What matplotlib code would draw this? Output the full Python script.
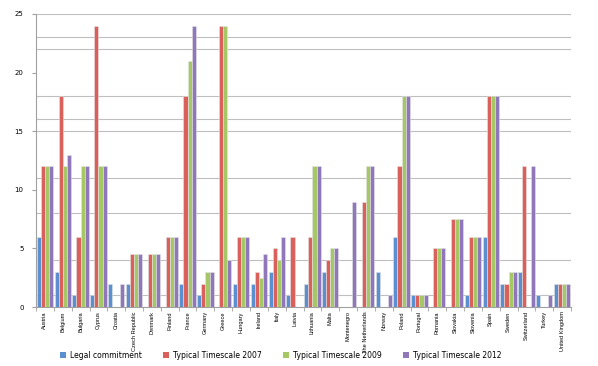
import numpy as np
import matplotlib
matplotlib.use("Agg")
import matplotlib.pyplot as plt
from matplotlib.patches import Patch
from matplotlib import font_manager

nan = np.nan
countries = ["Austria", "Belgium", "Bulgaria", "Cyprus", "Croatia", "Czech Republic",
             "Denmark", "Finland", "France", "Germany", "Greece", "Hungary", "Ireland",
             "Italy", "Latvia", "Lithuania", "Malta", "Montenegro", "The Netherlands",
             "Norway", "Poland", "Portugal", "Romania", "Slovakia", "Slovenia", "Spain",
             "Sweden", "Switzerland", "Turkey", "United Kingdom"]
legal = [6, 3, 1, 1, 2, 2, nan, nan, 2, 1, nan, 2, 2, 3, 1, 2, 3, nan, nan, 3,
         6, 1, nan, nan, 1, 6, 2, 3, 1, 2]
t2007 = [12, 18, 6, 24, nan, 4.5, 4.5, 6, 18, 2, 24, 6, 3, 5, 6, 6, 4, nan, 9, nan,
         12, 1, 5, 7.5, 6, 18, 2, 12, nan, 2]
t2009 = [12, 12, 12, 12, nan, 4.5, 4.5, 6, 21, 3, 24, 6, 2.5, 4, nan, 12, 5, nan, 12, nan,
         18, 1, 5, 7.5, 6, 18, 3, nan, nan, 2]
t2012 = [12, 13, 12, 12, 2, 4.5, 4.5, 6, 24, 3, 4, 6, 4.5, 6, nan, 12, 5, 9, 12, 1,
         18, 1, 5, 7.5, 6, 18, 3, 12, 1, 2]
series_names = ["Legal commitment", "Typical Timescale 2007",
                "Typical Timescale 2009", "Typical Timescale 2012"]
colors = ["#5B8FD0", "#D9605B", "#A6C766", "#8F77B9"]
y_ticks = [0, 5, 10, 15, 20, 25]
grid_values = [1, 4, 8, 11, 15, 16, 18, 22, 23, 25]

names = {f.name for f in font_manager.fontManager.ttflist}
if "Liberation Sans Narrow" in names:
    xfam, xsize = "Liberation Sans Narrow", 4.8
else:
    xfam, xsize = "Liberation Sans", 4.1

fig = plt.figure(figsize=(5.98, 3.66), dpi=100)
ax = fig.add_axes([36 / 598, 59 / 366, 535 / 598, 293 / 366])

x = np.arange(len(countries))
w = 0.23
all_series = [legal, t2007, t2009, t2012]
for k, (vals, c) in enumerate(zip(all_series, colors)):
    ax.bar(x + (k - 1.5) * w, np.array(vals, dtype=float), width=w, color=c,
           edgecolor="#e4e4e4", linewidth=0.4, zorder=3)

for g in grid_values:
    ax.axhline(g, color="#bfbfbf", linewidth=0.8, zorder=1)

ax.set_xlim(-0.5, len(countries) - 0.5)
ax.set_ylim(0, 25)
ax.set_yticks(y_ticks)
ax.set_yticklabels([str(t) for t in y_ticks], fontsize=5)
ax.tick_params(axis="y", length=3, color="#a0a0a0", pad=6)

ax.set_xticks(x)
ax.set_xticklabels(countries, rotation=90, fontsize=xsize, family=xfam)
ax.tick_params(axis="x", length=0, pad=3)
ax.set_xticks(np.arange(len(countries) + 1) - 0.5, minor=True)
ax.tick_params(axis="x", which="minor", length=3, color="#a0a0a0")

for s in ["top", "right"]:
    ax.spines[s].set_visible(False)
for s in ["left", "bottom"]:
    ax.spines[s].set_color("#a0a0a0")
    ax.spines[s].set_linewidth(0.8)

handles = [Patch(facecolor=c, edgecolor="none") for c in colors]
fig.legend(handles, series_names, loc="center left", bbox_to_anchor=(56 / 598, 1 - 355 / 366),
           ncol=4, frameon=False, fontsize=5.5, handlelength=0.8, handleheight=0.7,
           handletextpad=0.5, columnspacing=2.8, borderpad=0)

fig.savefig("out.png", dpi=100)
